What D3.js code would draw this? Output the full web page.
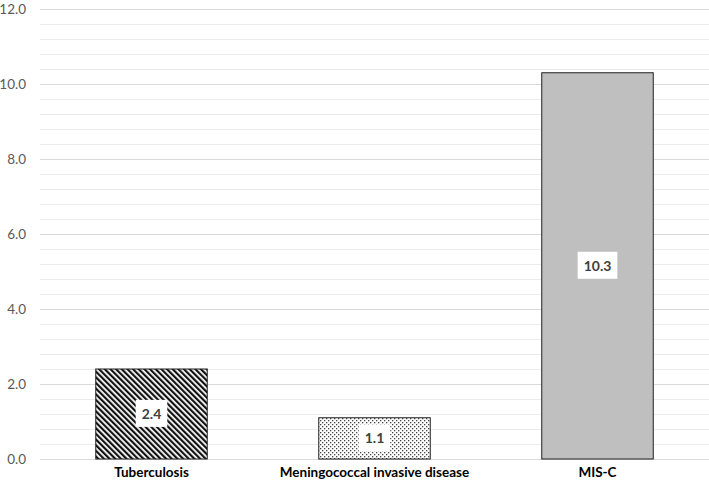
<!DOCTYPE html>
<html>
<head>
<meta charset="utf-8">
<script src="https://cdn.jsdelivr.net/npm/d3@7"></script>
<style>
  body { margin: 0; background: #fff; }
  svg { display: block; font-family: Lato, "Open Sans", sans-serif; }
</style>
</head>
<body>
<div id="chart"></div>
<script>
// data
const categories = ['Tuberculosis', 'Meningococcal invasive disease', 'MIS-C'];
const values = [2.4, 1.1, 10.3];
const fills = ['url(#stripes)', 'url(#dots)', '#bfbfbf'];
const y_ticks = [0, 2, 4, 6, 8, 10, 12];

const width = 709;
const height = 487;
const plot_left = 40, plot_right = 709, plot_top = 9, plot_bottom = 459;

const svg = d3.select('#chart')
    .append('svg')
    .attr('width', width)
    .attr('height', height);

// patterns
const defs = svg.append('defs');
const stripes = defs.append('pattern')
    .attr('id', 'stripes')
    .attr('patternUnits', 'userSpaceOnUse')
    .attr('width', 4).attr('height', 4)
    .attr('patternTransform', 'rotate(-45)');
stripes.append('rect').attr('width', 4).attr('height', 4).attr('fill', '#fff');
stripes.append('rect').attr('width', 2.2).attr('height', 4).attr('fill', '#111');

const dots = defs.append('pattern')
    .attr('id', 'dots')
    .attr('patternUnits', 'userSpaceOnUse')
    .attr('width', 4).attr('height', 4);
dots.append('rect').attr('width', 4).attr('height', 4).attr('fill', '#fff');
dots.append('rect').attr('x', 0).attr('y', 0).attr('width', 1.3).attr('height', 1.3).attr('fill', '#444');
dots.append('rect').attr('x', 2).attr('y', 2).attr('width', 1.3).attr('height', 1.3).attr('fill', '#444');

// scales
const x_scale = d3.scaleBand()
    .domain(categories)
    .range([plot_left, plot_right])
    .paddingInner(0.5)
    .paddingOuter(0.25);

const y_scale = d3.scaleLinear()
    .domain([0, 12])
    .range([plot_bottom, plot_top]);

// gridlines (minor every 0.4, major every 2)
const grid_vals = d3.range(0, 12.01, 0.4);
svg.append('g')
    .selectAll('line')
    .data(grid_vals)
    .enter()
    .append('line')
    .attr('x1', plot_left).attr('x2', plot_right)
    .attr('y1', d => Math.round(y_scale(d)) + 0.5)
    .attr('y2', d => Math.round(y_scale(d)) + 0.5)
    .attr('stroke', d => Math.abs(d / 2 - Math.round(d / 2)) < 1e-6 ? '#d9d9d9' : '#ececec')
    .attr('stroke-width', 1);

// y axis labels
const y_axis = svg.append('g')
    .attr('transform', `translate(${plot_left}, 0)`)
    .call(d3.axisLeft(y_scale).tickValues(y_ticks).tickFormat(d3.format('.1f')).tickSize(0).tickPadding(14));
y_axis.select('.domain').remove();
y_axis.selectAll('text')
    .attr('font-size', 13.5)
    .attr('font-family', 'Lato, "Open Sans", sans-serif')
    .attr('fill', '#595959');

// bars
svg.selectAll('.bar')
    .data(categories)
    .enter()
    .append('rect')
    .attr('class', 'bar')
    .attr('x', d => x_scale(d))
    .attr('y', (d, i) => y_scale(values[i]))
    .attr('width', x_scale.bandwidth())
    .attr('height', (d, i) => y_scale(0) - y_scale(values[i]))
    .attr('fill', (d, i) => fills[i])
    .attr('stroke', '#222')
    .attr('stroke-width', 1);

// value labels with white box
const labels = svg.selectAll('.val')
    .data(categories)
    .enter()
    .append('g')
    .attr('class', 'val')
    .attr('transform', (d, i) => `translate(${x_scale(d) + x_scale.bandwidth() / 2}, ${(y_scale(0) + y_scale(values[i])) / 2})`);

labels.append('text')
    .attr('text-anchor', 'middle')
    .attr('dy', '0.35em')
    .attr('font-size', 14)
    .attr('font-weight', 'bold')
    .attr('fill', '#404040')
    .text((d, i) => values[i].toFixed(1));

labels.each(function() {
    const g = d3.select(this);
    const bb = g.select('text').node().getBBox();
    g.insert('rect', 'text')
        .attr('x', bb.x - 6)
        .attr('y', bb.y - 5)
        .attr('width', bb.width + 12)
        .attr('height', bb.height + 10)
        .attr('fill', '#fff');
});

// category labels
svg.selectAll('.cat')
    .data(categories)
    .enter()
    .append('text')
    .attr('class', 'cat')
    .attr('x', d => x_scale(d) + x_scale.bandwidth() / 2)
    .attr('y', 477)
    .attr('text-anchor', 'middle')
    .attr('font-size', 13.5)
    .attr('font-weight', 'bold')
    .attr('fill', '#000')
    .text(d => d);
</script>
</body>
</html>
